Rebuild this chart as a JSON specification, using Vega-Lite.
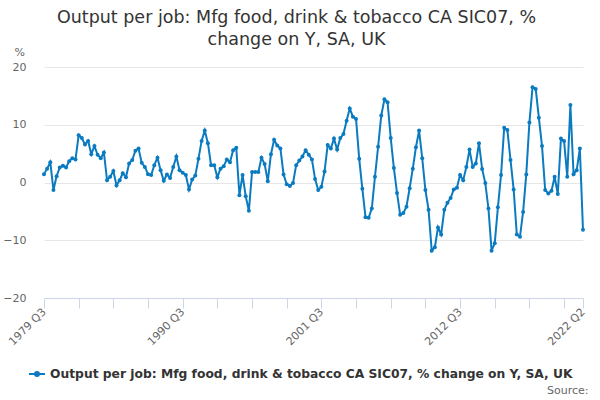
{
  "$schema": "https://vega.github.io/schema/vega-lite/v6.json",
  "width": 539,
  "height": 231,
  "autosize": "none",
  "padding": {"left": 44, "top": 67, "right": 17, "bottom": 102},
  "background": "white",
  "title": {
    "text": ["Output per job: Mfg food, drink & tobacco CA SIC07, %", "change on Y, SA, UK"],
    "anchor": "middle",
    "dx": -17,
    "offset": -2,
    "fontSize": 17.5,
    "fontWeight": "normal",
    "font": "DejaVu Sans",
    "color": "#333333",
    "lineHeight": 22
  },
  "data": {
    "values": [
      {"quarter": "1979 Q3", "value": 1.45}, {"quarter": "1979 Q4", "value": 2.4},
      {"quarter": "1980 Q1", "value": 3.5}, {"quarter": "1980 Q2", "value": -1.3}, {"quarter": "1980 Q3", "value": 1.1}, {"quarter": "1980 Q4", "value": 2.6},
      {"quarter": "1981 Q1", "value": 2.9}, {"quarter": "1981 Q2", "value": 2.6}, {"quarter": "1981 Q3", "value": 3.7}, {"quarter": "1981 Q4", "value": 4.2},
      {"quarter": "1982 Q1", "value": 4.0}, {"quarter": "1982 Q2", "value": 8.2}, {"quarter": "1982 Q3", "value": 7.7}, {"quarter": "1982 Q4", "value": 6.6},
      {"quarter": "1983 Q1", "value": 7.2}, {"quarter": "1983 Q2", "value": 4.9}, {"quarter": "1983 Q3", "value": 6.3}, {"quarter": "1983 Q4", "value": 4.8},
      {"quarter": "1984 Q1", "value": 4.2}, {"quarter": "1984 Q2", "value": 5.2}, {"quarter": "1984 Q3", "value": 0.4}, {"quarter": "1984 Q4", "value": 1.0},
      {"quarter": "1985 Q1", "value": 2.0}, {"quarter": "1985 Q2", "value": -0.5}, {"quarter": "1985 Q3", "value": 0.4}, {"quarter": "1985 Q4", "value": 1.6},
      {"quarter": "1986 Q1", "value": 0.9}, {"quarter": "1986 Q2", "value": 3.3}, {"quarter": "1986 Q3", "value": 3.9}, {"quarter": "1986 Q4", "value": 5.5},
      {"quarter": "1987 Q1", "value": 5.9}, {"quarter": "1987 Q2", "value": 3.4}, {"quarter": "1987 Q3", "value": 2.7}, {"quarter": "1987 Q4", "value": 1.45},
      {"quarter": "1988 Q1", "value": 1.3}, {"quarter": "1988 Q2", "value": 3.0}, {"quarter": "1988 Q3", "value": 4.3}, {"quarter": "1988 Q4", "value": 2.1},
      {"quarter": "1989 Q1", "value": 0.3}, {"quarter": "1989 Q2", "value": 1.4}, {"quarter": "1989 Q3", "value": 0.8}, {"quarter": "1989 Q4", "value": 2.7},
      {"quarter": "1990 Q1", "value": 4.5}, {"quarter": "1990 Q2", "value": 2.1}, {"quarter": "1990 Q3", "value": 1.7}, {"quarter": "1990 Q4", "value": 1.3},
      {"quarter": "1991 Q1", "value": -1.2}, {"quarter": "1991 Q2", "value": 0.5}, {"quarter": "1991 Q3", "value": 1.2}, {"quarter": "1991 Q4", "value": 4.1},
      {"quarter": "1992 Q1", "value": 7.2}, {"quarter": "1992 Q2", "value": 9.0}, {"quarter": "1992 Q3", "value": 6.8}, {"quarter": "1992 Q4", "value": 3.0},
      {"quarter": "1993 Q1", "value": 3.0}, {"quarter": "1993 Q2", "value": 0.9}, {"quarter": "1993 Q3", "value": 2.4}, {"quarter": "1993 Q4", "value": 2.8},
      {"quarter": "1994 Q1", "value": 4.0}, {"quarter": "1994 Q2", "value": 3.5}, {"quarter": "1994 Q3", "value": 5.6}, {"quarter": "1994 Q4", "value": 6.0},
      {"quarter": "1995 Q1", "value": -2.2}, {"quarter": "1995 Q2", "value": 1.3}, {"quarter": "1995 Q3", "value": -2.4}, {"quarter": "1995 Q4", "value": -4.9},
      {"quarter": "1996 Q1", "value": 1.8}, {"quarter": "1996 Q2", "value": 1.8}, {"quarter": "1996 Q3", "value": 1.8}, {"quarter": "1996 Q4", "value": 4.3},
      {"quarter": "1997 Q1", "value": 3.2}, {"quarter": "1997 Q2", "value": 0.2}, {"quarter": "1997 Q3", "value": 4.9}, {"quarter": "1997 Q4", "value": 7.4},
      {"quarter": "1998 Q1", "value": 6.4}, {"quarter": "1998 Q2", "value": 5.9}, {"quarter": "1998 Q3", "value": 1.4}, {"quarter": "1998 Q4", "value": -0.3},
      {"quarter": "1999 Q1", "value": -0.6}, {"quarter": "1999 Q2", "value": -0.1}, {"quarter": "1999 Q3", "value": 3.0}, {"quarter": "1999 Q4", "value": 3.8},
      {"quarter": "2000 Q1", "value": 4.5}, {"quarter": "2000 Q2", "value": 5.6}, {"quarter": "2000 Q3", "value": 4.8}, {"quarter": "2000 Q4", "value": 4.0},
      {"quarter": "2001 Q1", "value": 0.6}, {"quarter": "2001 Q2", "value": -1.3}, {"quarter": "2001 Q3", "value": -0.75}, {"quarter": "2001 Q4", "value": 1.9},
      {"quarter": "2002 Q1", "value": 6.5}, {"quarter": "2002 Q2", "value": 5.9}, {"quarter": "2002 Q3", "value": 7.6}, {"quarter": "2002 Q4", "value": 5.7},
      {"quarter": "2003 Q1", "value": 7.7}, {"quarter": "2003 Q2", "value": 8.4}, {"quarter": "2003 Q3", "value": 10.7}, {"quarter": "2003 Q4", "value": 12.8},
      {"quarter": "2004 Q1", "value": 11.4}, {"quarter": "2004 Q2", "value": 11.0}, {"quarter": "2004 Q3", "value": 4.1}, {"quarter": "2004 Q4", "value": -1.1},
      {"quarter": "2005 Q1", "value": -6.0}, {"quarter": "2005 Q2", "value": -6.1}, {"quarter": "2005 Q3", "value": -4.5}, {"quarter": "2005 Q4", "value": 1.0},
      {"quarter": "2006 Q1", "value": 6.2}, {"quarter": "2006 Q2", "value": 11.6}, {"quarter": "2006 Q3", "value": 14.4}, {"quarter": "2006 Q4", "value": 13.9},
      {"quarter": "2007 Q1", "value": 7.7}, {"quarter": "2007 Q2", "value": 2.5}, {"quarter": "2007 Q3", "value": -1.8}, {"quarter": "2007 Q4", "value": -5.6},
      {"quarter": "2008 Q1", "value": -5.3}, {"quarter": "2008 Q2", "value": -4.2}, {"quarter": "2008 Q3", "value": -1.0}, {"quarter": "2008 Q4", "value": 2.4},
      {"quarter": "2009 Q1", "value": 6.1}, {"quarter": "2009 Q2", "value": 9.0}, {"quarter": "2009 Q3", "value": 4.2}, {"quarter": "2009 Q4", "value": -1.3},
      {"quarter": "2010 Q1", "value": -4.7}, {"quarter": "2010 Q2", "value": -11.8}, {"quarter": "2010 Q3", "value": -11.2}, {"quarter": "2010 Q4", "value": -7.8},
      {"quarter": "2011 Q1", "value": -9.0}, {"quarter": "2011 Q2", "value": -4.7}, {"quarter": "2011 Q3", "value": -3.5}, {"quarter": "2011 Q4", "value": -2.7},
      {"quarter": "2012 Q1", "value": -1.2}, {"quarter": "2012 Q2", "value": -0.9}, {"quarter": "2012 Q3", "value": 1.3}, {"quarter": "2012 Q4", "value": 0.4},
      {"quarter": "2013 Q1", "value": 2.7}, {"quarter": "2013 Q2", "value": 5.7}, {"quarter": "2013 Q3", "value": 2.7}, {"quarter": "2013 Q4", "value": 3.3},
      {"quarter": "2014 Q1", "value": 6.8}, {"quarter": "2014 Q2", "value": 2.35}, {"quarter": "2014 Q3", "value": -0.1}, {"quarter": "2014 Q4", "value": -4.5},
      {"quarter": "2015 Q1", "value": -11.8}, {"quarter": "2015 Q2", "value": -10.5}, {"quarter": "2015 Q3", "value": -4.3}, {"quarter": "2015 Q4", "value": 1.3},
      {"quarter": "2016 Q1", "value": 9.5}, {"quarter": "2016 Q2", "value": 9.1}, {"quarter": "2016 Q3", "value": 3.9}, {"quarter": "2016 Q4", "value": -1.2},
      {"quarter": "2017 Q1", "value": -9.0}, {"quarter": "2017 Q2", "value": -9.4}, {"quarter": "2017 Q3", "value": -5.1}, {"quarter": "2017 Q4", "value": 1.4},
      {"quarter": "2018 Q1", "value": 10.4}, {"quarter": "2018 Q2", "value": 16.5}, {"quarter": "2018 Q3", "value": 16.2}, {"quarter": "2018 Q4", "value": 11.2},
      {"quarter": "2019 Q1", "value": 6.3}, {"quarter": "2019 Q2", "value": -1.3}, {"quarter": "2019 Q3", "value": -1.9}, {"quarter": "2019 Q4", "value": -1.45},
      {"quarter": "2020 Q1", "value": 1.0}, {"quarter": "2020 Q2", "value": -2.0}, {"quarter": "2020 Q3", "value": 7.6}, {"quarter": "2020 Q4", "value": 7.2},
      {"quarter": "2021 Q1", "value": 1.0}, {"quarter": "2021 Q2", "value": 13.4}, {"quarter": "2021 Q3", "value": 1.45}, {"quarter": "2021 Q4", "value": 2.1},
      {"quarter": "2022 Q1", "value": 5.9}, {"quarter": "2022 Q2", "value": -8.2}
    ]
  },
  "mark": {
    "type": "line",
    "strokeWidth": 2,
    "point": {"filled": true, "size": 16}
  },
  "encoding": {
    "x": {
      "field": "quarter",
      "type": "ordinal",
      "sort": null,
      "scale": {"type": "point", "padding": 0},
      "axis": {
        "values": ["1979 Q3", "1982 Q2", "1985 Q1", "1987 Q4", "1990 Q3", "1993 Q2", "1996 Q1", "1998 Q4", "2001 Q3", "2004 Q2", "2007 Q1", "2009 Q4", "2012 Q3", "2015 Q2", "2018 Q1", "2020 Q4", "2022 Q2"],
        "labelExpr": "indexof(['1979 Q3','1990 Q3','2001 Q3','2012 Q3','2022 Q2'], datum.value) >= 0 ? datum.value : ''",
        "labelAngle": -45,
        "labelAlign": "right",
        "labelBaseline": "middle",
        "labelPadding": 2,
        "labelOverlap": false,
        "labelBound": false,
        "labelFlush": false,
        "labelFontSize": 11,
        "labelColor": "#666666",
        "tickSize": 10,
        "tickColor": "#ccd6eb",
        "domainColor": "#ccd6eb",
        "grid": false,
        "zindex": 1,
        "title": "Source:",
        "titleX": 544,
        "titleY": 92,
        "titleAlign": "right",
        "titleBaseline": "middle",
        "titleFontWeight": "normal",
        "titleFontSize": 11,
        "titleColor": "#666666"
      }
    },
    "y": {
      "field": "value",
      "type": "quantitative",
      "scale": {"domain": [-20, 20], "nice": false},
      "axis": {
        "values": [-20, -10, 0, 10, 20],
        "ticks": false,
        "domain": false,
        "gridColor": "#e6e6e6",
        "labelPadding": 18,
        "labelFontSize": 11,
        "labelColor": "#666666",
        "title": "%",
        "titleAngle": 0,
        "titleX": -30,
        "titleY": -15,
        "titleAlign": "left",
        "titleBaseline": "middle",
        "titleFontWeight": "normal",
        "titleFontSize": 11,
        "titleColor": "#666666"
      }
    },
    "color": {
      "datum": "Output per job: Mfg food, drink & tobacco CA SIC07, % change on Y, SA, UK",
      "type": "nominal",
      "scale": {"range": ["#0b7bc1"]},
      "legend": {
        "title": null,
        "orient": "none",
        "legendX": -16,
        "legendY": 298,
        "symbolType": "M-1,0H1M-0.25,0A0.25,0.25 0 1,0 0.25,0A0.25,0.25 0 1,0 -0.25,0",
        "symbolSize": 256,
        "symbolStrokeWidth": 2,
        "labelFontSize": 12.3,
        "labelFontWeight": "bold",
        "labelColor": "#333333",
        "labelLimit": 600,
        "labelOffset": 4,
        "encode": {"symbols": {"update": {"fill": {"value": "#0b7bc1"}, "stroke": {"value": "#0b7bc1"}}}}
      }
    }
  },
  "view": {"stroke": null},
  "config": {
    "font": "DejaVu Sans"
  }
}
